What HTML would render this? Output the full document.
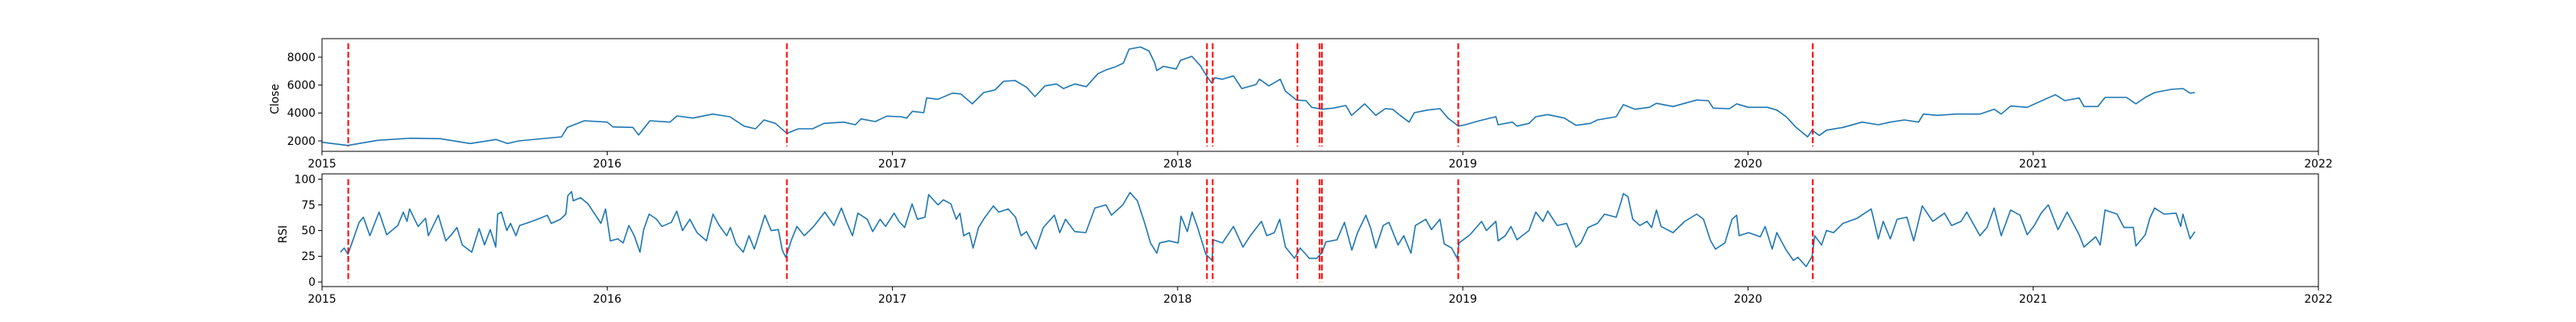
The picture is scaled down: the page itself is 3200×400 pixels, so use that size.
<!DOCTYPE html>
<html><head><meta charset="utf-8"><style>
html,body{margin:0;padding:0;background:#fff;}
svg{display:block;font-family:"DejaVu Sans","Liberation Sans",sans-serif;}
</style></head><body>
<svg id="chart" width="3200" height="400" xmlns="http://www.w3.org/2000/svg"></svg>
<script>
// years since 2015-01-01
const closeX = [0.0,0.09,0.195,0.31,0.415,0.52,0.61,0.65,0.69,0.84,0.86,0.92,1.0,1.02,1.09,1.11,1.15,1.22,1.245,1.30,1.37,1.43,1.48,1.52,1.55,1.59,1.63,1.67,1.72,1.76,1.83,1.87,1.89,1.94,1.98,2.03,2.05,2.07,2.11,2.12,2.16,2.21,2.24,2.28,2.32,2.36,2.39,2.43,2.47,2.50,2.535,2.575,2.60,2.64,2.68,2.72,2.75,2.78,2.81,2.83,2.87,2.90,2.92,2.927,2.95,2.995,3.01,3.05,3.08,3.103,3.12,3.13,3.157,3.196,3.225,3.275,3.287,3.32,3.36,3.378,3.417,3.45,3.47,3.507,3.546,3.59,3.61,3.656,3.695,3.728,3.754,3.78,3.812,3.83,3.877,3.92,3.948,3.985,4.008,4.058,4.116,4.124,4.174,4.19,4.232,4.256,4.298,4.356,4.397,4.447,4.472,4.538,4.563,4.604,4.654,4.679,4.737,4.778,4.82,4.861,4.878,4.935,4.96,5.002,5.068,5.101,5.134,5.167,5.209,5.225,5.25,5.275,5.333,5.40,5.457,5.499,5.548,5.598,5.615,5.664,5.73,5.813,5.863,5.888,5.921,5.979,6.02,6.078,6.111,6.161,6.178,6.227,6.252,6.327,6.36,6.393,6.426,6.484,6.525,6.55,6.567];
const closeY = [1904,1673,2040,2193,2155,1808,2097,1808,2000,2289,2962,3443,3347,3000,2962,2423,3443,3347,3789,3635,3924,3731,3058,2866,3500,3250,2539,2866,2866,3250,3347,3154,3577,3385,3770,3731,3635,4116,4020,5078,4982,5424,5366,4655,5463,5655,6270,6328,5847,5174,5943,6078,5751,6078,5886,6809,7097,7290,7578,8578,8732,8443,7578,7040,7347,7155,7770,8059,7386,6617,6136,6520,6424,6655,5751,6040,6424,5943,6424,5559,4924,4886,4405,4270,4347,4540,3828,4655,3828,4309,4270,3828,3347,4020,4212,4309,3635,3058,3154,3443,3731,3154,3347,3058,3250,3731,3885,3635,3116,3250,3500,3731,4597,4270,4405,4693,4463,4693,4924,4886,4347,4309,4655,4405,4405,4212,3731,3000,2289,2770,2385,2770,2962,3347,3154,3347,3500,3347,3924,3828,3924,3924,4270,3924,4501,4405,4790,5309,4886,5078,4463,4463,5116,5116,4655,5116,5463,5694,5751,5424,5463];
const rsiX = [0.065,0.078,0.091,0.11,0.13,0.145,0.168,0.20,0.227,0.266,0.285,0.298,0.307,0.337,0.363,0.373,0.408,0.434,0.454,0.473,0.492,0.525,0.551,0.57,0.59,0.609,0.616,0.629,0.648,0.661,0.68,0.693,0.726,0.765,0.79,0.804,0.836,0.855,0.862,0.875,0.881,0.907,0.933,0.959,0.978,0.994,1.011,1.037,1.056,1.076,1.095,1.115,1.128,1.147,1.173,1.192,1.225,1.244,1.264,1.29,1.315,1.348,1.371,1.393,1.419,1.432,1.452,1.477,1.497,1.516,1.553,1.575,1.60,1.614,1.626,1.646,1.665,1.691,1.724,1.763,1.795,1.821,1.84,1.86,1.879,1.912,1.931,1.957,1.976,2.006,2.023,2.043,2.069,2.088,2.114,2.127,2.16,2.179,2.205,2.224,2.237,2.25,2.27,2.283,2.302,2.322,2.354,2.373,2.406,2.432,2.451,2.47,2.503,2.529,2.568,2.587,2.607,2.639,2.678,2.71,2.749,2.768,2.808,2.833,2.859,2.872,2.885,2.905,2.927,2.937,2.97,3.002,3.012,3.034,3.051,3.07,3.099,3.121,3.125,3.157,3.196,3.229,3.255,3.294,3.313,3.339,3.358,3.378,3.41,3.43,3.462,3.488,3.507,3.52,3.559,3.585,3.611,3.631,3.66,3.676,3.695,3.721,3.741,3.773,3.793,3.818,3.834,3.87,3.89,3.92,3.935,3.961,3.98,3.987,4.025,4.066,4.083,4.116,4.124,4.149,4.169,4.19,4.232,4.256,4.281,4.298,4.331,4.364,4.397,4.414,4.439,4.472,4.497,4.538,4.555,4.563,4.579,4.596,4.621,4.646,4.662,4.679,4.695,4.737,4.778,4.82,4.844,4.869,4.886,4.919,4.944,4.96,4.969,5.002,5.043,5.06,5.085,5.101,5.134,5.159,5.175,5.204,5.225,5.234,5.258,5.275,5.3,5.333,5.383,5.432,5.457,5.474,5.499,5.523,5.557,5.581,5.611,5.648,5.689,5.714,5.747,5.767,5.813,5.838,5.863,5.888,5.921,5.954,5.979,6.004,6.028,6.053,6.087,6.119,6.161,6.178,6.219,6.235,6.252,6.294,6.318,6.351,6.36,6.393,6.409,6.426,6.459,6.501,6.517,6.525,6.55,6.567];
const rsiY = [29,33,27,42,58,63,45,68,46,55,68,59,71,54,62,45,65,40,46,53,36,29,52,36,51,34,66,68,50,57,45,55,58,62,65,57,61,66,84,88,79,82,76,65,57,71,40,42,38,55,45,29,51,66,61,54,58,69,50,61,48,40,66,55,45,53,37,29,45,32,65,50,51,31,24,41,54,45,54,68,55,72,58,45,67,61,49,61,54,67,59,53,76,61,63,85,75,80,76,61,67,45,48,33,53,62,74,68,71,63,45,49,32,53,65,48,61,49,48,72,75,65,75,87,79,68,57,38,28,38,40,38,64,49,68,53,27,21,41,38,54,34,45,59,45,48,61,34,23,33,23,23,29,39,41,58,31,48,65,53,33,55,58,36,45,28,55,61,51,61,37,33,23,38,46,59,50,59,40,45,54,41,50,68,59,69,55,57,34,38,53,57,66,63,78,86,83,61,55,59,53,70,54,48,59,66,61,40,32,38,61,65,45,48,44,54,32,48,31,21,24,15,25,45,36,50,48,57,62,71,42,59,42,61,63,40,74,59,67,55,59,68,45,53,72,45,70,65,46,55,67,75,51,68,46,34,44,36,70,66,53,53,35,46,62,72,66,67,54,66,42,49];
const eventX = [0.092,1.630,3.103,3.123,3.42,3.498,3.506,3.984,5.227];
const yearTicks = ['2015','2016','2017','2018','2019','2020','2021','2022'];
const closeTicks = [2000,4000,6000,8000];
const rsiTicks = [0,25,50,75,100];

const NS='http://www.w3.org/2000/svg';
const svg=document.getElementById('chart');
const L=400,R=2880;
function xs(t){return L+(t/7)*(R-L);}
function mk(tag,attrs,parent){const e=document.createElementNS(NS,tag);for(const k in attrs)e.setAttribute(k,attrs[k]);(parent||svg).appendChild(e);return e;}

const panels=[
 {top:48,bot:188,ymin:1250,ymax:9330,xs:closeX,ys:closeY,ticks:closeTicks,label:'Close',lx:341,vmin:1600,vmax:9000,name:'close'},
 {top:216,bot:356,ymin:-4.5,ymax:105.2,xs:rsiX,ys:rsiY,ticks:rsiTicks,label:'RSI',lx:351,vmin:0,vmax:100,name:'rsi'}
];
panels.forEach(p=>{
  const ys=v=>p.bot-(v-p.ymin)/(p.ymax-p.ymin)*(p.bot-p.top);
  const g=mk('g',{});
  
  
  let d='';
  p.xs.forEach((t,i)=>{d+=(i?'L':'M')+xs(t).toFixed(1)+' '+ys(p.ys[i]).toFixed(1);});
  const line=mk('path',{d:d,fill:'none',stroke:'#1f77b4','stroke-width':1.6,'stroke-linejoin':'round'},g);
  
  
  eventX.forEach(t=>{
    const v=mk('line',{x1:xs(t),x2:xs(t),y1:ys(p.vmax),y2:ys(p.vmin),stroke:'#ff0000','stroke-width':2,'stroke-dasharray':'7.4 3.2'},g);
    
    
  });
  const fr=mk('rect',{x:L,y:p.top,width:R-L,height:p.bot-p.top,fill:'none',stroke:'#000','stroke-width':1},g);
  
  
  p.ticks.forEach(v=>{
    const y=ys(v);
    mk('line',{x1:L-4.9,x2:L,y1:y,y2:y,stroke:'#000','stroke-width':1},g);
    const tx=mk('text',{x:L-8,y:y+4.8,'text-anchor':'end','font-size':'13.9px',fill:'#000'},g);
    tx.textContent=v;
    
    
  });
  yearTicks.forEach((lab,i)=>{
    const x=xs(i);
    mk('line',{x1:x,x2:x,y1:p.bot,y2:p.bot+4.9,stroke:'#000','stroke-width':1},g);
    const tx=mk('text',{x:x,y:p.bot+20,'text-anchor':'middle','font-size':'13.9px',fill:'#000'},g);
    tx.textContent=lab;
    
    
  });
  const yl=mk('text',{x:p.lx,y:(p.top+p.bot)/2,'text-anchor':'middle','font-size':'13.9px',fill:'#000',transform:'rotate(-90 '+(p.lx+5)+' '+((p.top+p.bot)/2)+')'},g);
  yl.textContent=p.label;
  
  
});
</script>
</body></html>
